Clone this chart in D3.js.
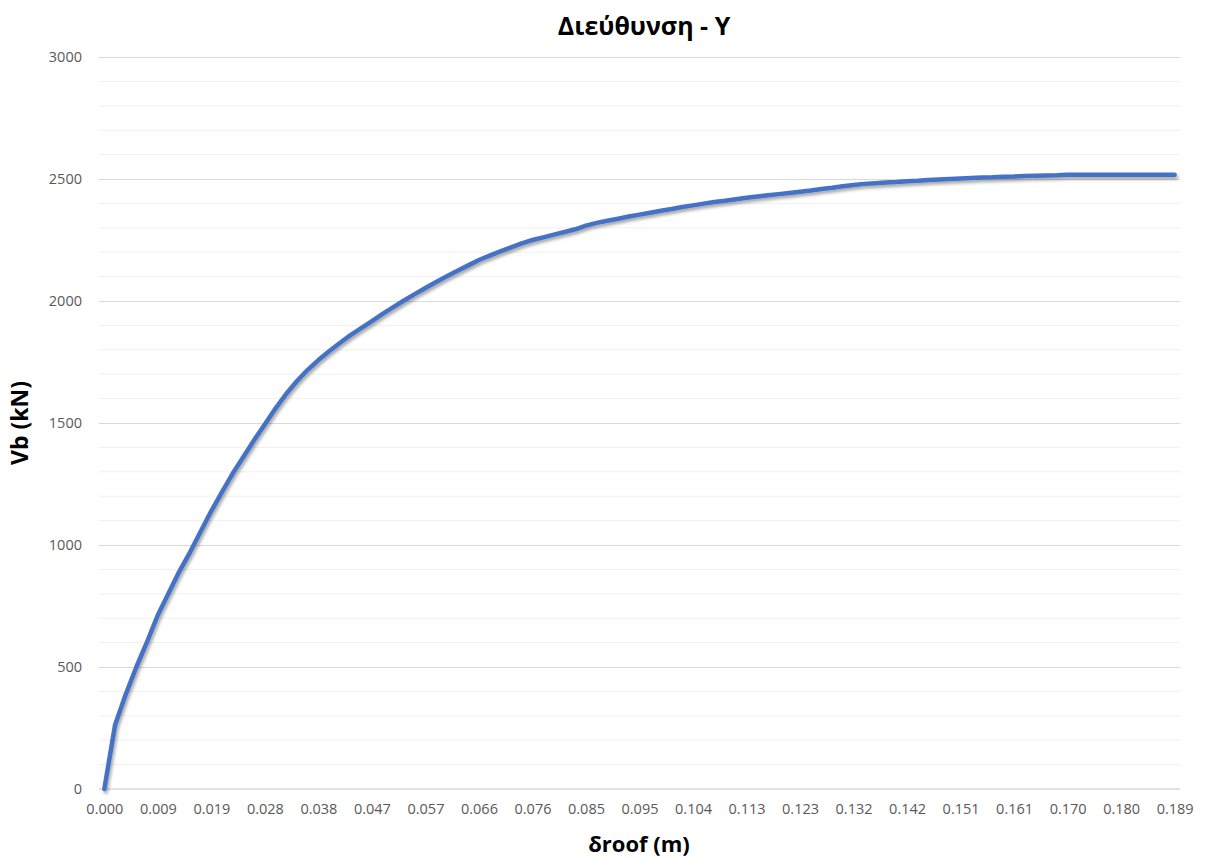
<!DOCTYPE html>
<html>
<head>
<meta charset="utf-8">
<script src="https://cdn.jsdelivr.net/npm/d3@7"></script>
<style>
  html, body { margin: 0; padding: 0; background: #fff; }
  svg { display: block; }
  .tick text { font-family: "Open Sans", "Liberation Sans", sans-serif; }
</style>
</head>
<body>
<svg id="chart" width="1206" height="859"></svg>
<script>
// Roof displacement (m) for each pushover step
const roofDisplacement = [
  0, 0.00189, 0.00378, 0.00567, 0.00756, 0.00945, 0.01134, 0.01323, 0.01512, 0.01701,
  0.0189, 0.02079, 0.02268, 0.02457, 0.02646, 0.02835, 0.03024, 0.03213, 0.03402, 0.03591,
  0.0378, 0.03969, 0.04158, 0.04347, 0.04536, 0.04725, 0.04914, 0.05103, 0.05292, 0.05481,
  0.0567, 0.05859, 0.06048, 0.06237, 0.06426, 0.06615, 0.06804, 0.06993, 0.07182, 0.07371,
  0.0756, 0.07749, 0.07938, 0.08127, 0.08316, 0.08505, 0.08694, 0.08883, 0.09072, 0.09261,
  0.0945, 0.09639, 0.09828, 0.10017, 0.10206, 0.10395, 0.10584, 0.10773, 0.10962, 0.11151,
  0.1134, 0.11529, 0.11718, 0.11907, 0.12096, 0.12285, 0.12474, 0.12663, 0.12852, 0.13041,
  0.1323, 0.13419, 0.13608, 0.13797, 0.13986, 0.14175, 0.14364, 0.14553, 0.14742, 0.14931,
  0.1512, 0.15309, 0.15498, 0.15687, 0.15876, 0.16065, 0.16254, 0.16443, 0.16632, 0.16821,
  0.1701, 0.17199, 0.17388, 0.17577, 0.17766, 0.17955, 0.18144, 0.18333, 0.18522, 0.18711,
  0.189
];

// Base shear Vb (kN) at each step
const baseShear = [
  0, 262, 388, 501, 604, 713, 802, 891, 970, 1055,
  1140, 1218, 1294, 1362, 1430, 1495, 1560, 1620, 1672, 1718,
  1758, 1794, 1828, 1860, 1889, 1918, 1947, 1975, 2002, 2028,
  2053, 2078, 2101, 2124, 2146, 2168, 2186, 2203, 2220, 2236,
  2250, 2261, 2272, 2283, 2294, 2309, 2320, 2329, 2337, 2346,
  2354, 2362, 2370, 2377, 2385, 2392, 2399, 2406, 2411, 2417,
  2423, 2428, 2433, 2438, 2443, 2448, 2453, 2459, 2464, 2470,
  2475, 2480, 2483, 2486, 2488, 2491, 2493, 2496, 2498, 2500,
  2502, 2504, 2506, 2507, 2509, 2510, 2512, 2513, 2514, 2515,
  2517, 2517, 2517, 2517, 2517, 2517, 2517, 2517, 2517, 2517,
  2517
];

// Category labels shown on the horizontal axis (every 5th step)
const xTickLabels = [
  "0.000", "0.009", "0.019", "0.028", "0.038", "0.047", "0.057", "0.066", "0.076", "0.085",
  "0.095", "0.104", "0.113", "0.123", "0.132", "0.142", "0.151", "0.161", "0.170", "0.180", "0.189"
];
const yTickValues = [0, 500, 1000, 1500, 2000, 2500, 3000];
const yMinorValues = d3.range(0, 3001, 100);

const titleText = "Διεύθυνση - Y";
const xTitleText = "δroof (m)";
const yTitleText = "Vb (kN)";

const svg = d3.select("#chart");
const plot = { left: 99, right: 1180, top: 57, bottom: 789 };

const x = d3.scalePoint()
  .domain(d3.range(roofDisplacement.length))
  .range([plot.left, plot.right])
  .padding(0.5);

const y = d3.scaleLinear()
  .domain([0, 3000])
  .range([plot.bottom, plot.top]);

// Shadow under the series line
const defs = svg.append("defs");
const shadow = defs.append("filter").attr("id", "lineShadow")
  .attr("x", "-5%").attr("y", "-5%").attr("width", "110%").attr("height", "120%");
shadow.append("feDropShadow")
  .attr("dx", 1.5).attr("dy", 2.5).attr("stdDeviation", 1.8)
  .attr("flood-color", "#000").attr("flood-opacity", 0.35);

// Minor gridlines
svg.append("g")
  .selectAll("line")
  .data(yMinorValues.filter(v => v % 500 !== 0))
  .join("line")
  .attr("x1", plot.left).attr("x2", plot.right)
  .attr("y1", d => y(d)).attr("y2", d => y(d))
  .attr("stroke", "#f0f0f0").attr("stroke-width", 1);

// Major gridlines + y labels
const yAxis = d3.axisLeft(y)
  .tickValues(yTickValues)
  .tickSize(-(plot.right - plot.left))
  .tickPadding(17)
  .tickFormat(d3.format("d"));

const yg = svg.append("g")
  .attr("transform", `translate(${plot.left},0)`)
  .call(yAxis);
yg.select(".domain").remove();
yg.selectAll(".tick line").attr("stroke", "#d9d9d9").attr("stroke-width", 1);
yg.selectAll(".tick text")
  .attr("fill", "#595959")
  .style("font-size", "14.5px");
yg.selectAll(".tick").filter(d => d === 0).select("line").attr("stroke-width", 0);

// Horizontal axis with category labels
const labelIdx = d3.range(0, roofDisplacement.length, 5);
const xAxis = d3.axisBottom(x)
  .tickValues(labelIdx)
  .tickSize(0)
  .tickPadding(15)
  .tickFormat((d, i) => xTickLabels[i]);

const xg = svg.append("g")
  .attr("transform", `translate(0,${plot.bottom})`)
  .call(xAxis);
xg.select(".domain")
  .attr("stroke", "#d9d9d9").attr("stroke-width", 1.5)
  .attr("d", `M${plot.left},0H${plot.right}`);
xg.selectAll(".tick text")
  .attr("fill", "#595959")
  .style("font-size", "14.5px");

// Capacity curve
const line = d3.line()
  .x((d, i) => x(i))
  .y(d => y(d));

svg.append("path")
  .datum(baseShear)
  .attr("d", line)
  .attr("fill", "none")
  .attr("stroke", "#4472C4")
  .attr("stroke-width", 4.5)
  .attr("stroke-linejoin", "round")
  .attr("stroke-linecap", "round")
  .attr("filter", "url(#lineShadow)");

// Titles
svg.append("text")
  .attr("x", 644).attr("y", 35)
  .attr("text-anchor", "middle")
  .style("font-family", "'Open Sans', 'Liberation Sans', sans-serif")
  .style("font-size", "25px").style("font-weight", "bold")
  .attr("fill", "#000")
  .text(titleText);

svg.append("text")
  .attr("x", 639).attr("y", 852)
  .attr("text-anchor", "middle")
  .style("font-family", "'Open Sans', 'Liberation Sans', sans-serif")
  .style("font-size", "22px").style("font-weight", "bold")
  .attr("fill", "#000")
  .text(xTitleText);

svg.append("text")
  .attr("transform", "translate(28,423) rotate(-90)")
  .attr("text-anchor", "middle")
  .style("font-family", "'Open Sans', 'Liberation Sans', sans-serif")
  .style("font-size", "23px").style("font-weight", "bold")
  .attr("fill", "#000")
  .text(yTitleText);
</script>
</body>
</html>
